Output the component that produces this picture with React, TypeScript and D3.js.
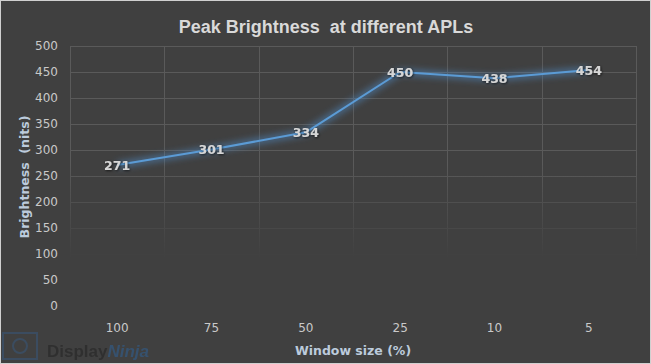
import React, { useEffect, useRef } from 'react'
import * as d3 from 'd3'

const categories = ['100', '75', '50', '25', '10', '5']
const brightness = [271, 301, 334, 450, 438, 454]
const yTicks = [0, 50, 100, 150, 200, 250, 300, 350, 400, 450, 500]

const W = 651
const H = 364

export default function App() {
  const ref = useRef<SVGSVGElement>(null)

  useEffect(() => {
    const svg = d3.select(ref.current)
    svg.selectAll('*').remove()

    const left = 70, right = 636, top = 46, bottom = 306
    const x = d3.scaleBand().domain(categories).range([left, right])
    const y = d3.scaleLinear().domain([0, 500]).range([bottom, top])

    const defs = svg.append('defs')
    const fade = defs.append('linearGradient').attr('id', 'fade')
      .attr('gradientUnits', 'userSpaceOnUse')
      .attr('x1', 0).attr('y1', top).attr('x2', 0).attr('y2', bottom)
    fade.append('stop').attr('offset', '0%').attr('stop-color', '#fff')
    fade.append('stop').attr('offset', '45%').attr('stop-color', '#fff')
    fade.append('stop').attr('offset', '82%').attr('stop-color', '#000')
    defs.append('mask').attr('id', 'gridmask')
      .append('rect').attr('x', 0).attr('y', 0).attr('width', W).attr('height', H)
      .attr('fill', 'url(#fade)')
    const glow = defs.append('filter').attr('id', 'glow')
      .attr('x', '-10%').attr('y', '-30%').attr('width', '120%').attr('height', '160%')
    glow.append('feGaussianBlur').attr('stdDeviation', 3)
    const shadow = defs.append('filter').attr('id', 'shadow')
    shadow.append('feDropShadow').attr('dx', 0.8).attr('dy', 0.8)
      .attr('stdDeviation', 0.8).attr('flood-color', '#000').attr('flood-opacity', 0.7)

    // background + frame
    svg.append('rect').attr('x', 0.5).attr('y', 0.5).attr('width', W - 1).attr('height', H - 1)
      .attr('fill', '#404040').attr('stroke', '#d0d0d0')

    // grid
    const grid = svg.append('g').attr('mask', 'url(#gridmask)')
      .attr('stroke', '#5a5a5a').attr('stroke-width', 1)
    grid.selectAll('line.h').data(yTicks.filter(t => t > 0)).join('line')
      .attr('x1', left).attr('x2', right)
      .attr('y1', d => Math.round(y(d)) + 0.5).attr('y2', d => Math.round(y(d)) + 0.5)
    const xEdges = [...categories.map(c => x(c) as number), right]
    grid.selectAll('line.v').data(xEdges).join('line')
      .attr('x1', d => Math.round(d) + 0.5).attr('x2', d => Math.round(d) + 0.5)
      .attr('y1', top).attr('y2', bottom)

    // y tick labels
    svg.append('g').selectAll('text').data(yTicks).join('text')
      .attr('x', 58).attr('y', d => y(d)).attr('dy', '0.35em')
      .attr('text-anchor', 'end')
      .attr('font-family', 'DejaVu Sans').attr('font-size', 12).attr('fill', '#c9c9c9')
      .text(d => d)

    // x tick labels
    svg.append('g').selectAll('text').data(categories).join('text')
      .attr('x', d => (x(d) as number) + x.bandwidth() / 2).attr('y', 332)
      .attr('text-anchor', 'middle')
      .attr('font-family', 'DejaVu Sans').attr('font-size', 12).attr('fill', '#c9c9c9')
      .text(d => d)

    // line
    const line = d3.line<number>()
      .x((_, i) => (x(categories[i]) as number) + x.bandwidth() / 2)
      .y(d => y(d))
    svg.append('path').datum(brightness).attr('d', line)
      .attr('fill', 'none').attr('stroke', '#4f86c0').attr('stroke-width', 7)
      .attr('stroke-opacity', 0.55).attr('filter', 'url(#glow)')
    svg.append('path').datum(brightness).attr('d', line)
      .attr('fill', 'none').attr('stroke', '#5b9bd5').attr('stroke-width', 2)
      .attr('stroke-linejoin', 'round')

    // data labels
    svg.append('g').selectAll('text').data(brightness).join('text')
      .attr('x', (_, i) => (x(categories[i]) as number) + x.bandwidth() / 2)
      .attr('y', d => y(d)).attr('dy', '0.38em')
      .attr('text-anchor', 'middle')
      .attr('font-family', 'DejaVu Sans').attr('font-weight', 'bold').attr('font-size', 12.5)
      .attr('fill', '#d6d6d6').attr('filter', 'url(#shadow)')
      .text(d => d)

    // titles
    svg.append('text').attr('x', 326).attr('y', 33).attr('text-anchor', 'middle')
      .attr('font-family', 'Liberation Sans Narrow, Liberation Sans').attr('font-weight', 'bold')
      .attr('font-size', 18).attr('fill', '#d9d9d9')
      .attr('xml:space', 'preserve')
      .text('Peak Brightness  at different APLs')
    svg.append('text').attr('x', 353).attr('y', 355).attr('text-anchor', 'middle')
      .attr('font-family', 'DejaVu Sans').attr('font-weight', 'bold')
      .attr('font-size', 12.5).attr('fill', '#bccbdc')
      .text('Window size (%)')
    svg.append('text').attr('transform', 'translate(29,177) rotate(-90)')
      .attr('text-anchor', 'middle').attr('xml:space', 'preserve')
      .attr('font-family', 'DejaVu Sans').attr('font-weight', 'bold')
      .attr('font-size', 12.5).attr('fill', '#bccbdc')
      .text('Brightness  (nits)')

    // watermark
    const wm = svg.append('g').attr('opacity', 0.8)
    wm.append('rect').attr('x', 3).attr('y', 333).attr('width', 34).attr('height', 26)
      .attr('fill', 'none').attr('stroke', '#3a5068').attr('stroke-width', 2)
    wm.append('circle').attr('cx', 20).attr('cy', 346).attr('r', 7)
      .attr('fill', 'none').attr('stroke', '#3a5068').attr('stroke-width', 2)
    wm.append('text').attr('x', 47).attr('y', 357)
      .attr('font-family', 'Liberation Sans Narrow, Liberation Sans').attr('font-weight', 'bold')
      .attr('font-size', 17).attr('fill', '#2c2c2c')
      .text('Display')
      .append('tspan').attr('font-style', 'italic').attr('fill', '#34567a').text('Ninja')
  }, [])

  return (
    <svg ref={ref} width={W} height={H} viewBox={`0 0 ${W} ${H}`}
      style={{ position: 'absolute', left: 0, top: 0, display: 'block' }} />
  )
}
